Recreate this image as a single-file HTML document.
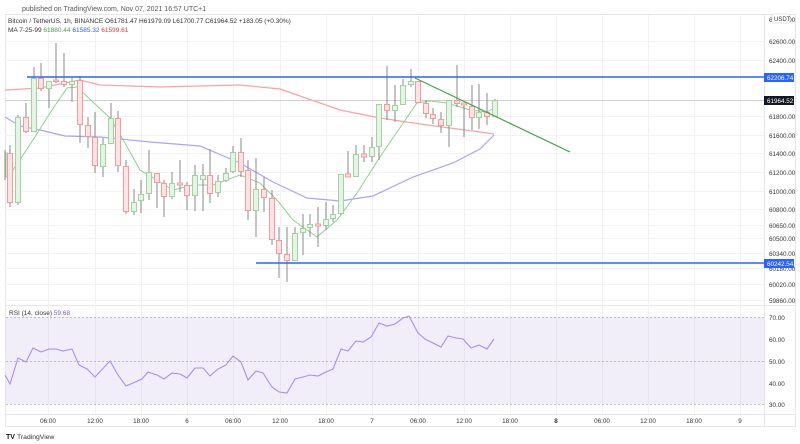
<!DOCTYPE html>
<html><head><meta charset="utf-8"><style>
html,body{margin:0;padding:0;background:#fff;width:800px;height:444px;overflow:hidden}
svg{display:block}
text{font-family:"Liberation Sans",sans-serif}
</style></head><body>
<svg width="800" height="444" viewBox="0 0 800 444" xmlns="http://www.w3.org/2000/svg">
<rect width="800" height="444" fill="#fff"/>
<text x="22" y="11" font-size="7" fill="#555">published on TradingView.com, Nov 07, 2021 16:57 UTC+1</text>
<!-- frame -->
<rect x="5.5" y="14.5" width="790" height="412" fill="none" stroke="#e6e6e6"/>
<line x1="764.5" y1="14" x2="764.5" y2="427" stroke="#e6e6e6"/>
<line x1="5" y1="305.5" x2="796" y2="305.5" stroke="#e6e6e6"/>
<line x1="5" y1="414.5" x2="796" y2="414.5" stroke="#e6e6e6"/>
<!-- grid -->
<g stroke="#f2f2f4" stroke-width="1">
<line x1="48.5" y1="15" x2="48.5" y2="414"/><line x1="95.5" y1="15" x2="95.5" y2="414"/><line x1="141.5" y1="15" x2="141.5" y2="414"/><line x1="187.5" y1="15" x2="187.5" y2="414"/><line x1="233.5" y1="15" x2="233.5" y2="414"/><line x1="280.5" y1="15" x2="280.5" y2="414"/><line x1="326.5" y1="15" x2="326.5" y2="414"/><line x1="372.5" y1="15" x2="372.5" y2="414"/><line x1="418.5" y1="15" x2="418.5" y2="414"/><line x1="464.5" y1="15" x2="464.5" y2="414"/><line x1="510.5" y1="15" x2="510.5" y2="414"/><line x1="556.5" y1="15" x2="556.5" y2="414"/><line x1="602.5" y1="15" x2="602.5" y2="414"/><line x1="648.5" y1="15" x2="648.5" y2="414"/><line x1="694.5" y1="15" x2="694.5" y2="414"/><line x1="740.5" y1="15" x2="740.5" y2="414"/>
<line x1="5" y1="41.5" x2="764" y2="41.5"/><line x1="5" y1="60.5" x2="764" y2="60.5"/><line x1="5" y1="116.5" x2="764" y2="116.5"/><line x1="5" y1="135.5" x2="764" y2="135.5"/><line x1="5" y1="153.5" x2="764" y2="153.5"/><line x1="5" y1="172.5" x2="764" y2="172.5"/><line x1="5" y1="191.5" x2="764" y2="191.5"/><line x1="5" y1="209.5" x2="764" y2="209.5"/><line x1="5" y1="225.5" x2="764" y2="225.5"/><line x1="5" y1="238.5" x2="764" y2="238.5"/><line x1="5" y1="253.5" x2="764" y2="253.5"/><line x1="5" y1="268.5" x2="764" y2="268.5"/><line x1="5" y1="284.5" x2="764" y2="284.5"/><line x1="5" y1="300.5" x2="764" y2="300.5"/>
</g>
<!-- current price line -->
<line x1="5" y1="100.5" x2="764" y2="100.5" stroke="#cfcfcf"/>
<!-- MA lines -->
<polyline fill="none" stroke="#f7a3a3" stroke-width="1.2" points="5,90 40,88 80,80 100,85 160,87 240,85 280,89 340,110 380,118 427,125 473,131 494,134"/>
<polyline fill="none" stroke="#a9a4f5" stroke-width="1.2" points="5,117 20,126 40,130 65,136 100,137 150,142 200,146 240,163 273,182 307,198 340,201 373,196 413,177 453,163 480,149 494,135"/>
<polyline fill="none" stroke="#8fcf8f" stroke-width="1" points="5,177 13,170 33,140 50,113 67,88 77,87 93,102 110,118 125,143 140,170 157,180 173,190 193,185 213,185 240,175 260,183 277,200 293,220 317,237 337,220 357,193 380,157 397,132 417,103 430,101 447,103 470,110 487,112 494,108"/>
<!-- candles -->
<g id="c" stroke-width="1">
<g stroke="#888"><line x1="5" y1="150" x2="5" y2="180"/><line x1="10" y1="145" x2="10" y2="207"/><line x1="18" y1="115" x2="18" y2="205"/><line x1="26" y1="103" x2="26" y2="133"/><line x1="34" y1="67" x2="34" y2="132"/><line x1="41" y1="63" x2="41" y2="91"/><line x1="49" y1="81" x2="49" y2="108"/><line x1="56" y1="43" x2="56" y2="83"/><line x1="64" y1="53" x2="64" y2="87"/><line x1="72" y1="78" x2="72" y2="102"/><line x1="80" y1="76" x2="80" y2="143"/><line x1="88" y1="117" x2="88" y2="148"/><line x1="95" y1="112" x2="95" y2="173"/><line x1="103" y1="138" x2="103" y2="177"/><line x1="111" y1="103" x2="111" y2="144"/><line x1="118" y1="111" x2="118" y2="172"/><line x1="126" y1="160" x2="126" y2="214"/><line x1="134" y1="189" x2="134" y2="215"/><line x1="141" y1="180" x2="141" y2="213"/><line x1="149" y1="150" x2="149" y2="200"/><line x1="157" y1="173" x2="157" y2="208"/><line x1="164" y1="180" x2="164" y2="217"/><line x1="172" y1="172" x2="172" y2="199"/><line x1="180" y1="160" x2="180" y2="192"/><line x1="187" y1="182" x2="187" y2="210"/><line x1="195" y1="165" x2="195" y2="211"/><line x1="203" y1="164" x2="203" y2="211"/><line x1="210" y1="149" x2="210" y2="203"/><line x1="218" y1="175" x2="218" y2="197"/><line x1="226" y1="168" x2="226" y2="182"/><line x1="233" y1="146" x2="233" y2="173"/><line x1="241" y1="138" x2="241" y2="177"/><line x1="248" y1="160" x2="248" y2="220"/><line x1="256" y1="158" x2="256" y2="237"/><line x1="264" y1="177" x2="264" y2="212"/><line x1="272" y1="190" x2="272" y2="245"/><line x1="279" y1="227" x2="279" y2="278"/><line x1="287" y1="227" x2="287" y2="282"/><line x1="295" y1="227" x2="295" y2="257"/><line x1="303" y1="214" x2="303" y2="255"/><line x1="310" y1="214" x2="310" y2="237"/><line x1="318" y1="207" x2="318" y2="247"/><line x1="326" y1="202" x2="326" y2="230"/><line x1="333" y1="205" x2="333" y2="222"/><line x1="341" y1="174" x2="341" y2="215"/><line x1="348" y1="151" x2="348" y2="177"/><line x1="356" y1="145" x2="356" y2="177"/><line x1="364" y1="145" x2="364" y2="162"/><line x1="372" y1="137" x2="372" y2="162"/><line x1="379" y1="104" x2="379" y2="160"/><line x1="387" y1="66" x2="387" y2="120"/><line x1="395" y1="85" x2="395" y2="122"/><line x1="403" y1="79" x2="403" y2="105"/><line x1="411" y1="69" x2="411" y2="87"/><line x1="418" y1="81" x2="418" y2="103"/><line x1="426" y1="100" x2="426" y2="118"/><line x1="433" y1="108" x2="433" y2="124"/><line x1="441" y1="112" x2="441" y2="133"/><line x1="449" y1="100" x2="449" y2="147"/><line x1="457" y1="65" x2="457" y2="107"/><line x1="464" y1="103" x2="464" y2="137"/><line x1="472" y1="85" x2="472" y2="130"/><line x1="479" y1="84" x2="479" y2="129"/><line x1="487" y1="93" x2="487" y2="125"/><line x1="495" y1="99" x2="495" y2="117"/></g>
<g fill="#e6f4e6" stroke="#9fd49f">
<rect x="6" y="153" width="1.5" height="24"/>
<rect x="15.5" y="117.5" width="5" height="85"/><rect x="31.5" y="78.5" width="5" height="53"/><rect x="46.5" y="81.5" width="5" height="7"/><rect x="69.5" y="81.5" width="5" height="3"/><rect x="100.5" y="144.5" width="5" height="22"/><rect x="108.5" y="118.5" width="5" height="25"/><rect x="131.5" y="202.5" width="5" height="9"/><rect x="138.5" y="194.5" width="5" height="6"/><rect x="146.5" y="172.5" width="5" height="21"/><rect x="169.5" y="183.5" width="5" height="13"/><rect x="192.5" y="175.5" width="5" height="20"/><rect x="200.5" y="175.5" width="5" height="4"/><rect x="215.5" y="181.5" width="5" height="11"/><rect x="223.5" y="173.5" width="5" height="7"/><rect x="230.5" y="152.5" width="5" height="19"/><rect x="253.5" y="189.5" width="5" height="21"/><rect x="292.5" y="233.5" width="5" height="27"/><rect x="300.5" y="228.5" width="5" height="4"/><rect x="307.5" y="224.5" width="5" height="3"/><rect x="323.5" y="219.5" width="5" height="6"/><rect x="330.5" y="214.5" width="5" height="4"/><rect x="338.5" y="174.5" width="5" height="39"/><rect x="353.5" y="154.5" width="5" height="22"/><rect x="369.5" y="147.5" width="5" height="9"/><rect x="376.5" y="104.5" width="5" height="42"/><rect x="392.5" y="105.5" width="5" height="5"/><rect x="400.5" y="85.5" width="5" height="19"/><rect x="408.5" y="81.5" width="5" height="3"/><rect x="446.5" y="100.5" width="5" height="25"/><rect x="476.5" y="112.5" width="5" height="5"/><rect x="492.5" y="100.5" width="5" height="16"/>
</g>
<g fill="#fde3e3" stroke="#f59a9a">
<rect x="7.5" y="153.5" width="5" height="49"/><rect x="23.5" y="117.5" width="5" height="14"/><rect x="38.5" y="78.5" width="5" height="10"/><rect x="53.5" y="80" width="5" height="1.5"/><rect x="61.5" y="81.5" width="5" height="3"/><rect x="77.5" y="80.5" width="5" height="44"/><rect x="85.5" y="125.5" width="5" height="11"/><rect x="92.5" y="137.5" width="5" height="28"/><rect x="115.5" y="118.5" width="5" height="47"/><rect x="123.5" y="166.5" width="5" height="45"/><rect x="154.5" y="173.5" width="5" height="9"/><rect x="161.5" y="183.5" width="5" height="13"/><rect x="177.5" y="183" width="5" height="2"/><rect x="184.5" y="185.5" width="5" height="10"/><rect x="207.5" y="175.5" width="5" height="18"/><rect x="238.5" y="152.5" width="5" height="19"/><rect x="245.5" y="170.5" width="5" height="40"/><rect x="261.5" y="189.5" width="5" height="8"/><rect x="269.5" y="198.5" width="5" height="41"/><rect x="276.5" y="240.5" width="5" height="13"/><rect x="284.5" y="254.5" width="5" height="6"/><rect x="315.5" y="224" width="5" height="2"/><rect x="345.5" y="174" width="5" height="3"/><rect x="361.5" y="154" width="5" height="3"/><rect x="384.5" y="104.5" width="5" height="6"/><rect x="415.5" y="81.5" width="5" height="21"/><rect x="423.5" y="103.5" width="5" height="10"/><rect x="430.5" y="114.5" width="5" height="4"/><rect x="438.5" y="119.5" width="5" height="6"/><rect x="454.5" y="100.5" width="5" height="3"/><rect x="461.5" y="103" width="5" height="2"/><rect x="469.5" y="106.5" width="5" height="11"/><rect x="484.5" y="112.5" width="5" height="4"/>
</g>
</g>
<!-- drawings -->
<line x1="27" y1="77" x2="764" y2="77" stroke="#2962ff" stroke-width="1.5"/>
<line x1="256" y1="263" x2="764" y2="263" stroke="#2962ff" stroke-width="1.5"/>
<line x1="415" y1="78" x2="570" y2="152" stroke="#43a047" stroke-width="1.2"/>
<!-- legend -->
<text x="8" y="23" font-size="6.5" fill="#333">Bitcoin / TetherUS, 1h, BINANCE  O61781.47  H61979.09  L61700.77  C61964.52  +183.05 (+0.30%)</text>
<text x="8" y="32" font-size="6.5" fill="#333">MA 7-25-99 <tspan fill="#43a047">61880.44</tspan> <tspan fill="#2962ff">61585.32</tspan> <tspan fill="#e53935">61599.61</tspan></text>
<!-- price axis -->
<g font-size="6.3" fill="#333">
<text x="769" y="22">62800.00</text><text x="769" y="44">62600.00</text><text x="769" y="63">62400.00</text><text x="769" y="119">61800.00</text><text x="769" y="138">61600.00</text><text x="769" y="156">61400.00</text><text x="769" y="175">61200.00</text><text x="769" y="194">61000.00</text><text x="769" y="212">60800.00</text><text x="769" y="228">60650.00</text><text x="769" y="241">60500.00</text><text x="769" y="256">60340.00</text><text x="769" y="271">60180.00</text><text x="769" y="287">60020.00</text><text x="769" y="303">59860.00</text>
<text x="769" y="320">70.00</text><text x="769" y="342">60.00</text><text x="769" y="364">50.00</text><text x="769" y="386">40.00</text><text x="769" y="407">30.00</text>
</g>
<rect x="772" y="14" width="18" height="9" rx="2" fill="#fff" stroke="#ccc" stroke-width="0.6"/>
<text x="774" y="21" font-size="6" fill="#333">USDT</text>
<rect x="764" y="73" width="30" height="9" fill="#2962ff"/><text x="767" y="80" font-size="6.3" fill="#fff">62206.74</text>
<rect x="764" y="96" width="30" height="9" fill="#131722"/><text x="767" y="103" font-size="6.3" fill="#fff">61964.52</text>
<rect x="764" y="259" width="30" height="9" fill="#2962ff"/><text x="767" y="266" font-size="6.3" fill="#fff">60242.54</text>
<!-- RSI pane -->
<rect x="6" y="317" width="758" height="87" fill="#7e57c2" fill-opacity="0.1"/>
<g stroke="#b0a8bf" stroke-dasharray="2,2" stroke-width="0.8">
<line x1="6" y1="317.5" x2="764" y2="317.5"/><line x1="6" y1="361.5" x2="764" y2="361.5"/><line x1="6" y1="404.5" x2="764" y2="404.5"/></g>
<text x="9" y="315" font-size="6.5" fill="#333">RSI (14, close) <tspan fill="#7e57c2">59.68</tspan></text>
<polyline fill="none" stroke="#a98fe6" stroke-width="1.1" points="5,375 10,384 18,358 26,362 33,348 41,352 49,349 56,349 63,351 72,349 79,365 87,369 95,377 110,361 118,375 126,386 133,383 142,379 148,372 157,375 164,379 172,373 180,374 187,378 195,368 203,368 210,376 218,369 226,365 233,356 241,362 248,380 256,371 263,373 272,387 279,392 287,393 295,379 303,377 310,375 318,376 326,372 333,369 341,349 348,351 356,341 363,342 371,337 379,323 387,326 395,324 403,318 409,316 418,333 425,339 433,343 441,347 448,336 456,338 463,339 471,348 479,345 487,349 494,339"/>
<!-- time axis -->
<g font-size="6.3" fill="#333" text-anchor="middle">
<text x="48" y="423">06:00</text><text x="95" y="423">12:00</text><text x="141" y="423">18:00</text><text x="187" y="423">6</text><text x="233" y="423">06:00</text><text x="280" y="423">12:00</text><text x="326" y="423">18:00</text><text x="372" y="423">7</text><text x="418" y="423">06:00</text><text x="464" y="423">12:00</text><text x="510" y="423">18:00</text><text x="556" y="423" font-weight="bold">8</text><text x="602" y="423">06:00</text><text x="648" y="423">12:00</text><text x="694" y="423">18:00</text><text x="740" y="423">9</text>
</g>
<text x="6" y="439" font-size="7" font-weight="bold" fill="#131722">TV</text>
<text x="17" y="439" font-size="6.8" fill="#333">TradingView</text>
</svg>
</body></html>
